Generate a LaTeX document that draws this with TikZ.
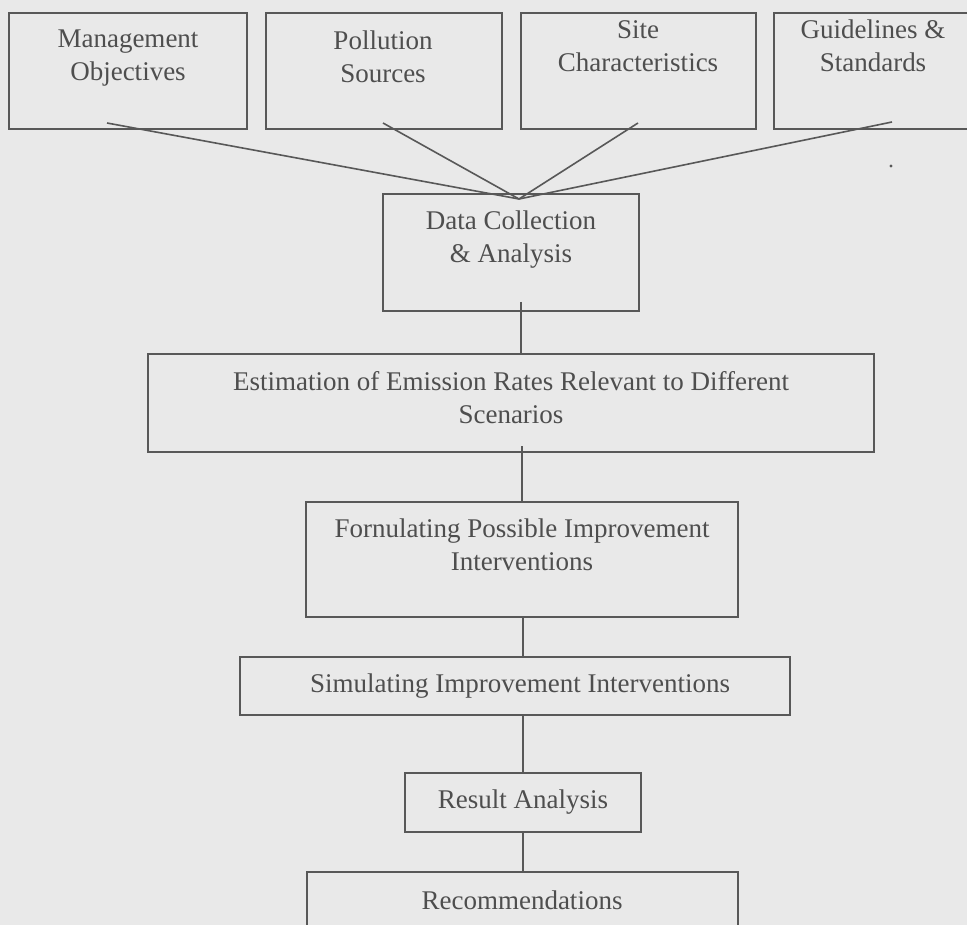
\documentclass[tikz,border=0pt]{standalone}
\usepackage{fontspec}
\setmainfont{Liberation Serif}
\definecolor{bg}{RGB}{233,233,233}
\definecolor{ink}{RGB}{88,88,88}
\definecolor{txt}{RGB}{78,78,78}
\begin{document}
\begin{tikzpicture}[x=1pt,y=-1pt,
  box/.style={draw=ink,line width=1.8pt,inner sep=0pt},
  lbl/.style={text=txt,align=center,inner sep=0pt,font=\fontsize{27}{33}\selectfont},
  conn/.style={draw=ink,line width=1.6pt}]
\fill[bg] (0,0) rectangle (967,925);
\useasboundingbox (0,0) rectangle (967,925);
\begin{scope}
\clip (0,0) rectangle (967,925);
% top boxes
\node[box,minimum width=238pt,minimum height=116pt] (mo) at (128,71) {};
\node[box,minimum width=236pt,minimum height=116pt] (ps) at (384,71) {};
\node[box,minimum width=235pt,minimum height=116pt] (sc) at (638.5,71) {};
\node[box,minimum width=220pt,minimum height=116pt] (gs) at (884,71) {};
\node[lbl] (mo-t) at (128,58) {Management\\Objectives};
\node[lbl] (ps-t) at (383,57) {Pollution\\Sources};
\node[lbl] (sc-t) at (638,46) {Site\\Characteristics};
\node[lbl] (gs-t) at (873,46) {Guidelines \&\\Standards};
% data collection
\node[box,minimum width=256pt,minimum height=117pt] (dc) at (511,252.5) {};
\node[lbl] (dc-t) at (511,239.5) {Data Collection\\\& Analysis};
% estimation
\node[box,minimum width=726pt,minimum height=98pt] (est) at (511,403) {};
\node[lbl] (est-t) at (511,398) {Estimation of Emission Rates Relevant to Different\\Scenarios};
% formulating
\node[box,minimum width=432pt,minimum height=115pt] (fm) at (522,559.5) {};
\node[lbl] (fm-t) at (522,545) {Fornulating Possible Improvement\\Interventions};
% simulating
\node[box,minimum width=550pt,minimum height=58pt] (sim) at (515,686) {};
\node[lbl] (sim-t) at (520,686) {Simulating Improvement Interventions};
% result analysis
\node[box,minimum width=236pt,minimum height=59pt] (res) at (523,802.5) {};
\node[lbl] (res-t) at (523,802.5) {Result Analysis};
% recommendations
\node[box,minimum width=431pt,minimum height=100pt] (rec) at (522.5,922) {};
\node[lbl] (rec-t) at (522,900) {Recommendations};
% converging connectors
\coordinate (apex) at (519,199);
\coordinate (s1) at (107,123);
\coordinate (s2) at (383,123);
\coordinate (s3) at (638,123);
\coordinate (s4) at (892,122);
\draw[conn] (s1) -- (apex);
\draw[conn] (s2) -- (apex);
\draw[conn] (s3) -- (apex);
\draw[conn] (s4) -- (apex);
% vertical connectors
\coordinate (d1) at (521,302);
\coordinate (d2) at (522,446);
\coordinate (d3) at (523,617);
\coordinate (d4) at (523,716);
\coordinate (d5) at (523,832);
\draw[conn] (d1) -- (est.north -| d1);
\draw[conn] (d2) -- (fm.north -| d2);
\draw[conn] (d3) -- (sim.north -| d3);
\draw[conn] (d4) -- (res.north -| d4);
\draw[conn] (d5) -- (rec.north -| d5);
% speck
\fill[ink] (891,166) circle (1.6);
\end{scope}
\end{tikzpicture}
\end{document}
